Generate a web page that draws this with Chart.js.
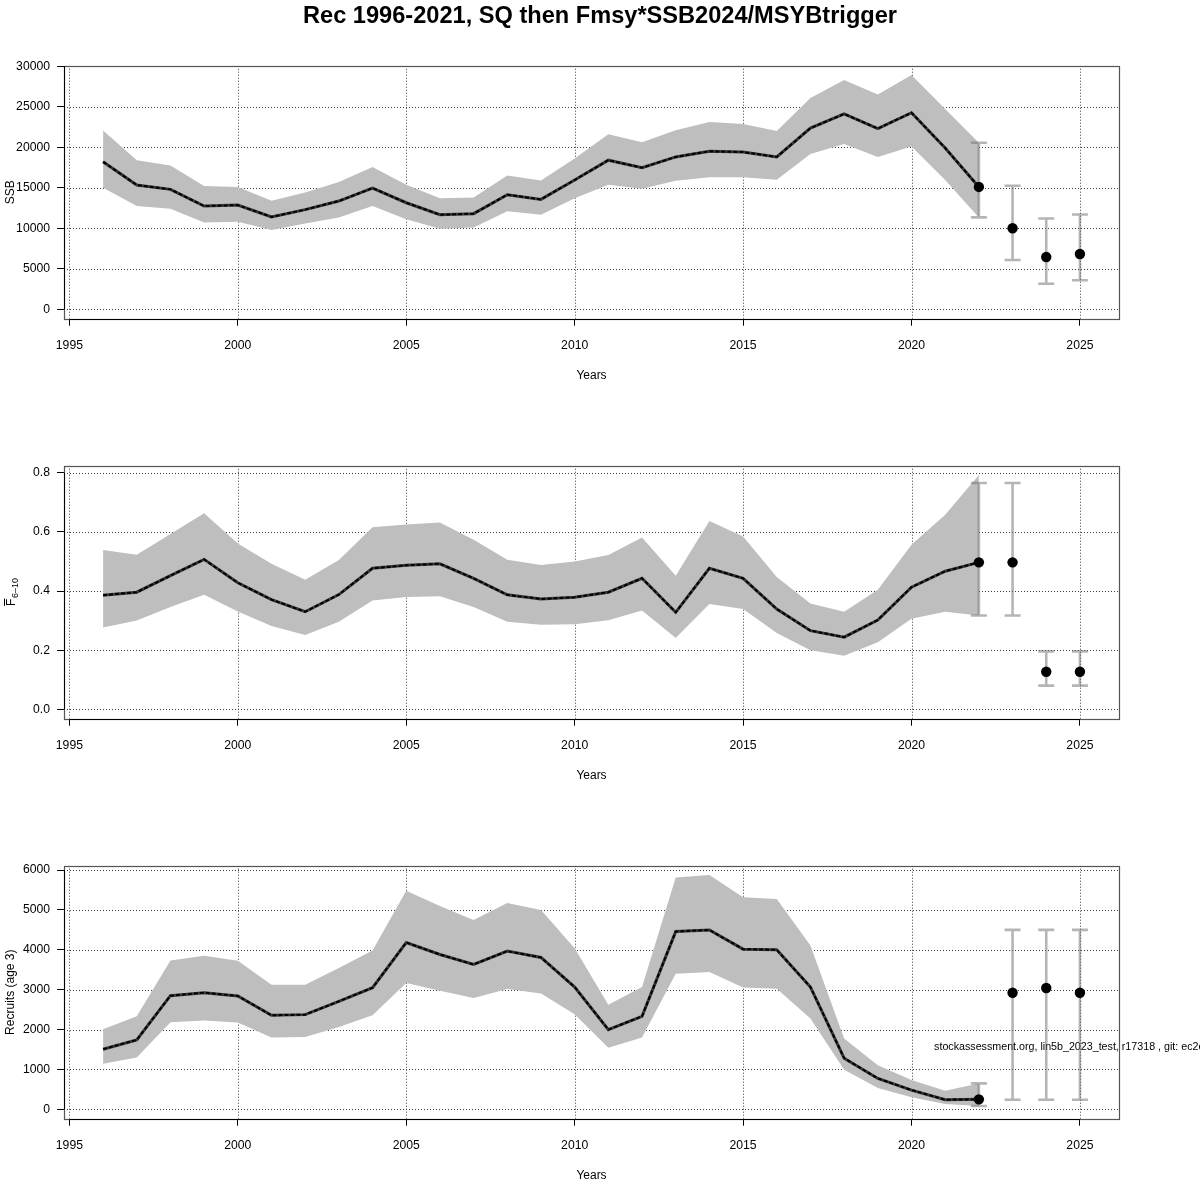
<!DOCTYPE html>
<html>
<head>
<meta charset="utf-8">
<script src="https://cdn.jsdelivr.net/npm/chart.js@4/dist/chart.umd.min.js"></script>
<style>
  html, body { margin: 0; padding: 0; background: #fff; }
  #wrap { position: relative; width: 1200px; height: 1200px; background: #fff; overflow: hidden; }
  .panel { position: absolute; left: 0; width: 1200px; height: 400px; }
  #title { position: absolute; left: 0; top: 2px; width: 1200px; text-align: center;
           font: bold 23.6px "Liberation Sans", Arial, sans-serif; color: #000; z-index: 2; }
</style>
</head>
<body>
<div id="wrap">
  <div id="title">Rec 1996-2021, SQ then Fmsy*SSB2024/MSYBtrigger</div>
  <div class="panel" style="top:0px"><canvas id="c1" width="1200" height="400"></canvas></div>
  <div class="panel" style="top:400px"><canvas id="c2" width="1200" height="400"></canvas></div>
  <div class="panel" style="top:800px"><canvas id="c3" width="1200" height="400"></canvas></div>
</div>
<script>
// ---------------- DATA ----------------
const histYears = [1996,1997,1998,1999,2000,2001,2002,2003,2004,2005,2006,2007,2008,2009,2010,
                   2011,2012,2013,2014,2015,2016,2017,2018,2019,2020,2021,2022];
const fcYears = [2022, 2023, 2024, 2025];
const xTicks = [1995, 2000, 2005, 2010, 2015, 2020, 2025];

const ssb     = [18200,15330,14800,12740,12860,11400,12300,13360,14960,13150,11670,11800,14140,13560,15950,
                 18400,17470,18800,19500,19400,18800,22360,24100,22300,24250,19900,15100];
const ssbLow  = [15000,12740,12400,10700,10800,9800,10600,11340,12740,11100,9950,10100,12100,11670,13700,
                 15370,14880,15860,16280,16300,16000,19150,20400,18800,20100,15950,11340];
const ssbHigh = [22070,18400,17750,15200,15100,13400,14400,15700,17550,15370,13700,13800,16500,15900,18600,
                 21600,20600,22100,23100,22850,22000,26060,28300,26500,28900,24700,20550];
const ssbFc     = [15100, 10000, 6450, 6820];
const ssbFcLow  = [11340, 6080, 3160, 3580];
const ssbFcHigh = [20550, 15250, 11200, 11700];
const ssbTicks  = [0, 5000, 10000, 15000, 20000, 25000, 30000];

const fbar     = [0.386,0.396,0.452,0.507,0.428,0.371,0.330,0.388,0.477,0.487,0.492,0.443,0.387,0.373,0.379,
                  0.396,0.443,0.328,0.477,0.443,0.339,0.266,0.244,0.302,0.413,0.467,0.497];
const fbarLow  = [0.277,0.300,0.346,0.387,0.331,0.282,0.251,0.296,0.368,0.380,0.382,0.346,0.296,0.286,0.288,
                  0.301,0.334,0.241,0.356,0.339,0.258,0.200,0.181,0.227,0.306,0.330,0.317];
const fbarHigh = [0.539,0.523,0.593,0.663,0.561,0.492,0.438,0.505,0.616,0.625,0.632,0.573,0.506,0.488,0.500,
                  0.522,0.581,0.452,0.637,0.584,0.447,0.358,0.330,0.404,0.556,0.658,0.792];
const fbarFc     = [0.497, 0.497, 0.127, 0.127];
const fbarFcLow  = [0.317, 0.317, 0.080, 0.080];
const fbarFcHigh = [0.765, 0.765, 0.196, 0.196];
const fbarTicks  = [0.0, 0.2, 0.4, 0.6, 0.8];

const rec     = [1508,1742,2850,2925,2842,2358,2375,2708,3050,4183,3883,3633,3967,3808,3067,
                 2000,2333,4458,4500,4017,4000,3067,1283,775,483,242,250];
const recLow  = [1142,1300,2183,2225,2175,1800,1817,2067,2358,3167,2975,2792,3017,2908,2383,
                 1542,1800,3400,3442,3058,3025,2275,992,533,300,133,83];
const recHigh = [2008,2333,3733,3850,3725,3125,3125,3542,3983,5483,5100,4750,5175,5000,4042,
                 2625,3067,5817,5875,5317,5275,4108,1775,1108,733,467,650];
const recFc     = [250, 2925, 3042, 2925];
const recFcLow  = [83, 242, 242, 242];
const recFcHigh = [650, 4500, 4500, 4500];
const recTicks  = [0, 1000, 2000, 3000, 4000, 5000, 6000];

const watermark = "stockassessment.org, lin5b_2023_test, r17318 , git: ec2c8b0e6b";

// ---------------- HELPERS ----------------
const FONT = '"Liberation Sans", Arial, Helvetica, sans-serif';
const pts = (xs, ys) => xs.map((x, i) => ({ x: x, y: ys[i] }));

const allYears = histYears.concat(fcYears);
const xLo = Math.min(...allYears), xHi = Math.max(...allYears);
const xMin = xLo - 0.04 * (xHi - xLo), xMax = xHi + 0.04 * (xHi - xLo);

const gridPlugin = {
  id: 'rgrid',
  beforeDatasetsDraw(chart) {
    const { ctx, chartArea: a, scales: { x, y } } = chart;
    ctx.save();
    ctx.beginPath(); ctx.rect(a.left, a.top, a.right - a.left, a.bottom - a.top); ctx.clip();
    ctx.strokeStyle = '#3a3a3a'; ctx.lineWidth = 1; ctx.setLineDash([1, 2]);
    x.ticks.forEach(t => {
      const px = Math.round(x.getPixelForValue(t.value)) + 0.5;
      ctx.beginPath(); ctx.moveTo(px, a.top); ctx.lineTo(px, a.bottom); ctx.stroke();
    });
    y.ticks.forEach(t => {
      const py = Math.round(y.getPixelForValue(t.value)) + 0.5;
      ctx.beginPath(); ctx.moveTo(a.left, py); ctx.lineTo(a.right, py); ctx.stroke();
    });
    ctx.restore();
    const o = chart.options.plugins.rgrid || {};
    if (o.watermark) {
      ctx.save();
      ctx.font = '10.7px ' + FONT;
      ctx.fillStyle = '#000';
      ctx.textBaseline = 'middle';
      ctx.textAlign = 'left';
      ctx.fillText(o.watermark.text, x.getPixelForValue(o.watermark.x), y.getPixelForValue(o.watermark.y));
      ctx.restore();
    }
  },
  beforeDatasetDraw(chart, args) {
    const ds = chart.data.datasets[args.index];
    if (!ds.errLow) return;
    const { ctx, scales: { x, y } } = chart;
    ctx.save();
    ctx.strokeStyle = 'rgba(113,113,113,0.52)';
    ctx.lineWidth = 2.6;
    ds.data.forEach((p, i) => {
      const px = x.getPixelForValue(p.x);
      const yl = y.getPixelForValue(ds.errLow[i]);
      const yh = y.getPixelForValue(ds.errHigh[i]);
      ctx.beginPath();
      ctx.moveTo(px, yl); ctx.lineTo(px, yh);
      ctx.moveTo(px - 8, yl); ctx.lineTo(px + 8, yl);
      ctx.moveTo(px - 8, yh); ctx.lineTo(px + 8, yh);
      ctx.stroke();
    });
    ctx.restore();
  },
  afterDatasetsDraw(chart) {
    const { ctx, chartArea: a, scales: { x, y } } = chart;
    const o = chart.options.plugins.rgrid || {};
    ctx.save();
    ctx.setLineDash([]);
    ctx.strokeStyle = '#555'; ctx.lineWidth = 1.2;
    ctx.strokeRect(Math.round(a.left) + 0.5, Math.round(a.top) + 0.5,
                   Math.round(a.right - a.left), Math.round(a.bottom - a.top));
    // axis lines
    ctx.strokeStyle = '#000'; ctx.lineWidth = 1;
    const bx = Math.round(a.bottom) + 0.5;
    ctx.beginPath();
    ctx.moveTo(x.getPixelForValue(x.ticks[0].value), bx);
    ctx.lineTo(x.getPixelForValue(x.ticks[x.ticks.length - 1].value), bx);
    const lx = Math.round(a.left) + 0.5;
    ctx.moveTo(lx, y.getPixelForValue(y.ticks[0].value));
    ctx.lineTo(lx, y.getPixelForValue(y.ticks[y.ticks.length - 1].value));
    ctx.stroke();
    // axis titles
    ctx.fillStyle = '#000';
    ctx.font = '12px ' + FONT;
    ctx.textAlign = 'center'; ctx.textBaseline = 'middle';
    ctx.fillText('Years', (a.left + a.right) / 2, a.bottom + 56.5);
    const cy = (a.top + a.bottom) / 2;
    ctx.translate(11, cy);
    ctx.rotate(-Math.PI / 2);
    if (o.ytitle === 'F') {
      ctx.textAlign = 'left'; ctx.textBaseline = 'alphabetic';
      ctx.font = '12px ' + FONT;
      const wF = ctx.measureText('F').width;
      ctx.font = '9px ' + FONT;
      const wS = ctx.measureText('6\u201310').width;
      const x0 = -(wF + wS) / 2;
      ctx.font = '12px ' + FONT;
      ctx.fillText('F', x0, 4);
      ctx.lineWidth = 1;
      ctx.beginPath(); ctx.moveTo(x0, -6.5); ctx.lineTo(x0 + wF, -6.5); ctx.stroke();
      ctx.font = '9px ' + FONT;
      ctx.fillText('6\u201310', x0 + wF + 0.5, 7);
    } else {
      ctx.fillText(o.ytitle, 0, 0);
    }
    ctx.restore();
  }
};

function makePanel(id, hist, low, high, fc, fcLow, fcHigh, yTicks, fmt, ytitle, extra) {
  const allV = high.concat(fcHigh, low, fcLow, hist, fc);
  const vMax = Math.max(...allV), vMin = Math.min(0, ...allV);
  const r = vMax - vMin;
  const yMin = vMin - 0.04 * r, yMax = vMax + 0.04 * r;
  const tickFont = { family: FONT, size: 12.2 };
  return new Chart(document.getElementById(id), {
    type: 'line',
    data: {
      datasets: [
        { // forecast points with error bars
          data: pts(fcYears, fc), errLow: fcLow, errHigh: fcHigh,
          showLine: false, pointRadius: 5.2, pointHoverRadius: 5.2,
          pointBackgroundColor: '#000', pointBorderColor: '#000', pointBorderWidth: 0
        },
        { // dashed overlay
          data: pts(histYears, hist), borderColor: '#000', borderWidth: 2,
          borderDash: [4, 2], pointRadius: 0, fill: false, tension: 0
        },
        { // solid base line
          data: pts(histYears, hist), borderColor: '#3c3c3c', borderWidth: 3,
          pointRadius: 0, fill: false, tension: 0
        },
        { // band upper
          data: pts(histYears, high), borderWidth: 0, borderColor: 'rgba(0,0,0,0)',
          backgroundColor: '#bebebe', pointRadius: 0, fill: '+1', tension: 0
        },
        { // band lower
          data: pts(histYears, low), borderWidth: 0, borderColor: 'rgba(0,0,0,0)',
          pointRadius: 0, fill: false, tension: 0
        }
      ]
    },
    options: {
      responsive: false,
      animation: false,
      devicePixelRatio: 1,
      layout: { padding: { top: 65.7, right: 81, bottom: 0, left: 0 } },
      plugins: {
        legend: { display: false },
        tooltip: { enabled: false },
        rgrid: Object.assign({ ytitle: ytitle }, extra || {})
      },
      scales: {
        x: {
          type: 'linear', min: xMin, max: xMax,
          afterBuildTicks: s => { s.ticks = xTicks.map(v => ({ value: v })); },
          afterFit: s => { s.height = 81.3; },
          ticks: { font: tickFont, color: '#000', padding: 13, maxRotation: 0, autoSkip: false,
                   callback: v => String(v) },
          grid: { drawOnChartArea: false, drawTicks: true, tickLength: 7, color: '#000', lineWidth: 1 },
          border: { display: false }
        },
        y: {
          type: 'linear', min: yMin, max: yMax,
          afterBuildTicks: s => { s.ticks = yTicks.map(v => ({ value: v })); },
          afterFit: s => { s.width = 64; },
          ticks: { font: tickFont, color: '#000', padding: 7, autoSkip: false, callback: fmt },
          grid: { drawOnChartArea: false, drawTicks: true, tickLength: 7, color: '#000', lineWidth: 1 },
          border: { display: false }
        }
      }
    },
    plugins: [gridPlugin]
  });
}

makePanel('c1', ssb, ssbLow, ssbHigh, ssbFc, ssbFcLow, ssbFcHigh, ssbTicks, v => String(v), 'SSB');
makePanel('c2', fbar, fbarLow, fbarHigh, fbarFc, fbarFcLow, fbarFcHigh, fbarTicks, v => Number(v).toFixed(1), 'F');
makePanel('c3', rec, recLow, recHigh, recFc, recFcLow, recFcHigh, recTicks, v => String(v), 'Recruits (age 3)',
          { watermark: { text: watermark, x: 2020.67, y: 1560 } });
</script>
</body>
</html>
